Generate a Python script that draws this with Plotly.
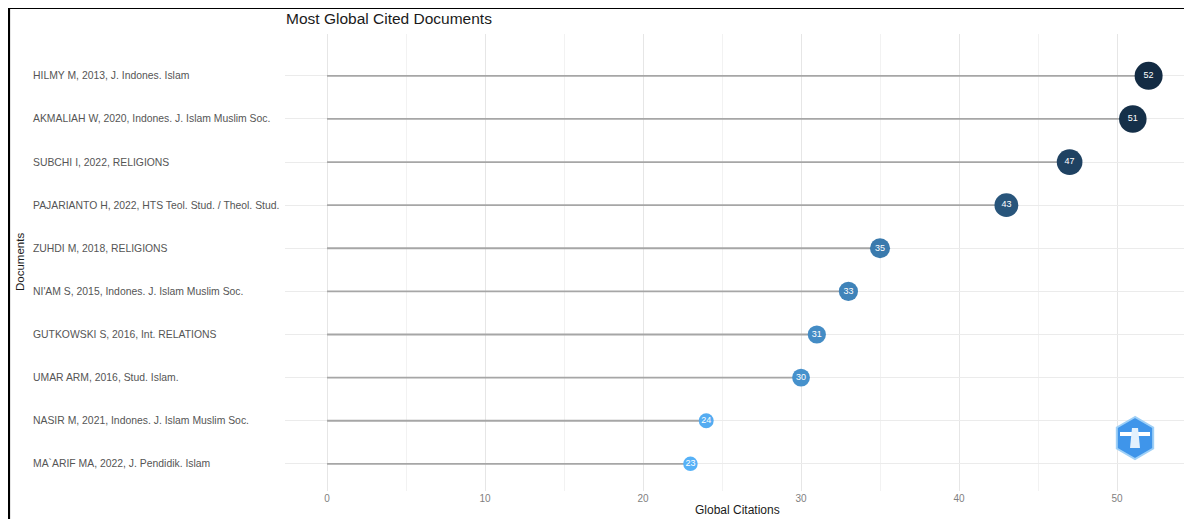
import math
import plotly.graph_objects as go

documents = [
    "MA`ARIF MA, 2022, J. Pendidik. Islam",
    "NASIR M, 2021, Indones. J. Islam Muslim Soc.",
    "UMAR ARM, 2016, Stud. Islam.",
    "GUTKOWSKI S, 2016, Int. RELATIONS",
    "NI'AM S, 2015, Indones. J. Islam Muslim Soc.",
    "ZUHDI M, 2018, RELIGIONS",
    "PAJARIANTO H, 2022, HTS Teol. Stud. / Theol. Stud.",
    "SUBCHI I, 2022, RELIGIONS",
    "AKMALIAH W, 2020, Indones. J. Islam Muslim Soc.",
    "HILMY M, 2013, J. Indones. Islam",
]
citations = [23, 24, 30, 31, 33, 35, 43, 47, 51, 52]
x_ticks = [0, 10, 20, 30, 40, 50]

OFF = 8  # page body margin
W, H = 1192 - 2 * OFF, 519 - OFF
L, R, T, B = 285 - OFF, 1184 - OFF, 34 - OFF, 491 - OFF
pw, ph = R - L, B - T

def px_x(p):
    return (p - OFF - L) / pw

def px_y(p):
    return (B - (p - OFF)) / ph

idx = list(range(len(documents)))
vmin, vmax = min(citations), max(citations)
sizes = [14.5 + (v - vmin) / (vmax - vmin) * 13.5 for v in citations]

fig = go.Figure()

for i, v in zip(idx, citations):
    fig.add_trace(go.Scatter(x=[0, v], y=[i, i], mode="lines",
                             line=dict(color="#a6a6a6", width=1.8),
                             hoverinfo="skip", showlegend=False))

fig.add_trace(go.Scatter(
    x=citations, y=idx, mode="markers+text",
    text=[str(v) for v in citations],
    textfont=dict(color="white", size=9, family="Liberation Sans"),
    textposition="middle center",
    marker=dict(size=sizes, color=citations, cmin=vmin, cmax=vmax,
                colorscale=[[0, "#56B1F7"], [1, "#132B43"]],
                opacity=1, line=dict(width=0)),
    showlegend=False,
))

for i, d in zip(idx, documents):
    fig.add_annotation(x=px_x(31), xref="paper", y=i, yref="y", text=d,
                       showarrow=False, xanchor="left", yanchor="middle",
                       font=dict(size=10.4, color="#555555", family="Liberation Sans"))

fig.add_annotation(x=px_x(20), xref="paper", y=px_y(262), yref="paper",
                   text="Documents", textangle=-90, showarrow=False,
                   xanchor="center", yanchor="middle",
                   font=dict(size=11.5, color="#1a1a1a", family="Liberation Sans"))

fig.add_annotation(x=px_x(737), xref="paper", y=px_y(510), yref="paper",
                   text="Global Citations", showarrow=False,
                   xanchor="center", yanchor="middle",
                   font=dict(size=12, color="#1a1a1a", family="Liberation Sans"))

fig.add_annotation(x=px_x(284), xref="paper", y=px_y(18), yref="paper",
                   text="Most Global Cited Documents", showarrow=False,
                   xanchor="left", yanchor="middle",
                   font=dict(size=15.5, color="#1a1a1a", family="Liberation Sans"))

# frame
fig.add_shape(type="path", xref="paper", yref="paper",
              path=f"M {px_x(9)},{px_y(540)} L {px_x(9)},{px_y(8)} L {px_x(1200)},{px_y(8)}",
              line=dict(color="black", width=2.2))

# logo
cx, cy, r = 1135, 438, 21
pts = []
for k in range(6):
    a = math.radians(90 + 60 * k)
    pts.append((px_x(cx + r * math.cos(a)), px_y(cy - r * math.sin(a))))
path = "M " + " L ".join(f"{a},{b}" for a, b in pts) + " Z"
fig.add_shape(type="path", xref="paper", yref="paper", path=path,
              fillcolor="#3f95ea", line=dict(color="#9fd0f7", width=2))
fig.add_shape(type="rect", xref="paper", yref="paper",
              x0=px_x(cx - 15), x1=px_x(cx + 15), y0=px_y(cy - 2), y1=px_y(cy - 6),
              fillcolor="white", line=dict(width=0))
fig.add_shape(type="path", xref="paper", yref="paper",
              path=f"M {px_x(cx-5)},{px_y(cy+10)} L {px_x(cx-3)},{px_y(cy-10)} L {px_x(cx+3)},{px_y(cy-10)} L {px_x(cx+5)},{px_y(cy+10)} Z",
              fillcolor="#e3f1fd", line=dict(width=0))

fig.update_layout(
    width=W, height=H,
    margin=dict(l=L, r=W - R, t=T, b=H - B),
    paper_bgcolor="white", plot_bgcolor="white",
    xaxis=dict(range=[-2.66, 54.24], tickvals=x_ticks, showgrid=True,
               gridcolor="#e6e6e6", gridwidth=1, zeroline=False,
               tickfont=dict(size=10, color="#7f7f7f", family="Liberation Sans"),
               ticks="", showline=False,
               minor=dict(dtick=5, tick0=0, showgrid=True, gridcolor="#f2f2f2", gridwidth=1)),
    yaxis=dict(range=[-0.63, 9.97], tickvals=idx, showticklabels=False,
               showgrid=True, gridcolor="#ebebeb", gridwidth=1, zeroline=False,
               ticks="", showline=False),
)

fig.write_html("out.html")
